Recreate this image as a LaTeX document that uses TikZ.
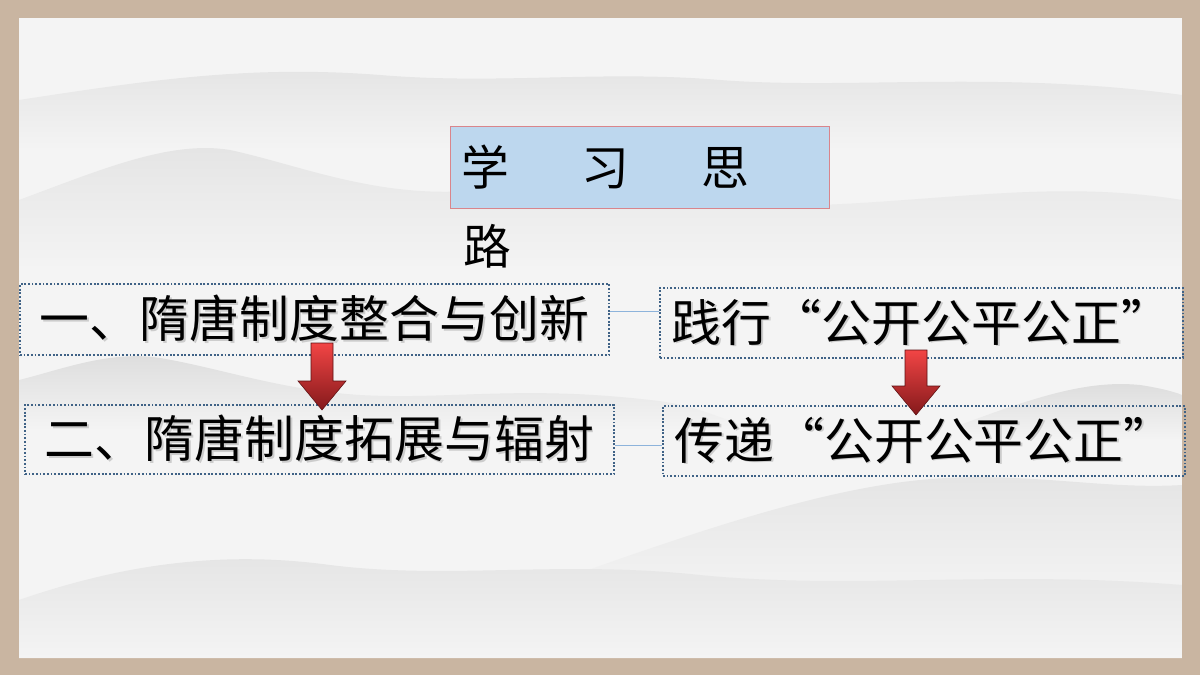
\documentclass[tikz,border=0pt]{standalone}
\usepackage{fontspec}
\newfontfamily\cjk{Noto Sans CJK SC}
\usetikzlibrary{calc}
\definecolor{frame}{HTML}{C9B5A1}
\definecolor{paper}{HTML}{F4F4F4}
\definecolor{mtn}{HTML}{E4E4E4}
\definecolor{mtnd}{HTML}{DCDCDC}
\definecolor{titlefill}{HTML}{BDD7EE}
\definecolor{titleline}{HTML}{D9858C}
\definecolor{boxline}{HTML}{3F6286}
\definecolor{linkline}{HTML}{8DB3DB}
\definecolor{arrtop}{HTML}{F24545}
\definecolor{arrbot}{HTML}{84191B}
\newcommand\shtext[1]{\makebox[0pt][l]{\hspace{0.045cm}\raisebox{-0.045cm}{\color{black!20}#1}}#1}
\tikzset{
  dotbox/.style={draw=boxline, line width=1.3pt, dash pattern=on 1.3pt off 1.3pt,
    inner sep=0pt, font=\cjk\fontsize{35.5}{40}\selectfont},
  titlebox/.style={draw=titleline, fill=titlefill, line width=0.6pt, inner xsep=0.3cm,
    inner ysep=0pt, font=\cjk\fontsize{34}{40}\selectfont, align=left},
  titletext/.style={inner sep=0pt, font=\cjk\fontsize{34}{40}\selectfont},
  link/.style={draw=linkline, line width=0.6pt},
  mountain/.style={top color=mtn, bottom color=paper},
  mountaind/.style={top color=mtnd, bottom color=paper}
}
\begin{document}
\begin{tikzpicture}[x=0.025cm,y=-0.025cm]
\useasboundingbox (0,0) rectangle (1200,675);
\fill[frame] (0,0) rectangle (1200,675);
\fill[paper] (19,18) rectangle (1182,658);
\begin{scope}
\clip (19,18) rectangle (1182,658);
% faint mountain layers, each fading into the paper below
\shade[mountain] (19,100) .. controls (150,80) and (250,65) .. (380,75) .. controls (500,85) and (600,70) .. (720,80) .. controls (850,90) and (1000,70) .. (1182,95) -- (1182,150) -- (19,150) -- cycle;
\shade[mountain] (19,200) .. controls (100,170) and (170,140) .. (230,150) .. controls (300,165) and (380,200) .. (480,190) .. controls (600,180) and (700,210) .. (820,205) .. controls (950,200) and (1060,180) .. (1182,200) -- (1182,270) -- (19,270) -- cycle;
\shade[mountaind] (19,380) .. controls (60,370) and (110,350) .. (160,358) .. controls (220,368) and (280,390) .. (360,395) .. controls (450,400) and (520,385) .. (650,400) .. controls (700,405) and (720,420) .. (760,430) -- (19,430) -- cycle;
\shade[mountaind] (960,425) .. controls (1040,395) and (1090,380) .. (1140,385) .. controls (1160,388) and (1175,392) .. (1182,395) -- (1182,440) -- (960,440) -- cycle;
\shade[mountain] (560,580) .. controls (700,530) and (820,490) .. (920,480) .. controls (1020,470) and (1100,490) .. (1182,485) -- (1182,600) -- (560,600) -- cycle;
\shade[mountain] (19,600) .. controls (120,565) and (220,550) .. (330,565) .. controls (450,580) and (560,560) .. (700,575) .. controls (850,590) and (1000,570) .. (1182,585) -- (1182,658) -- (19,658) -- cycle;
\end{scope}

% title
\node[titlebox, minimum width=9.475cm, minimum height=2.05cm, text width=8.875cm] (title) at (639.5,167)
  {学\hspace{1.8cm}习\hspace{1.8cm}思};
\node[titletext] (lu) at (487,246) {路};

% boxes
\node[dotbox, minimum width=14.725cm, minimum height=1.775cm] (b1) at (314.5,319.5) {\shtext{一、隋唐制度整合与创新}};
\node[dotbox, minimum width=14.725cm, minimum height=1.725cm] (b2) at (319.5,439.5) {\shtext{二、隋唐制度拓展与辐射}};
\node[dotbox, minimum width=13.075cm, minimum height=1.75cm] (b3) at (921.5,323) {\shtext{践行“公开公平公正”}};
\node[dotbox, minimum width=13.05cm, minimum height=1.75cm] (b4) at (924,441) {\shtext{传递“公开公平公正”}};

% thin links
\coordinate (l1) at ([yshift=0.19cm]b1.east);
\draw[link] (l1) -- (l1 -| b3.west);
\coordinate (l2) at ([yshift=-0.15cm]b2.east);
\draw[link] (l2) -- (l2 -| b4.west);

% red arrows
\coordinate (a1s) at (322,343);
\coordinate (a1e) at (322,410);
\coordinate (a2s) at (916,350);
\coordinate (a2e) at (916,415);
\foreach \s/\e in {a1s/a1e, a2s/a2e}{
  \shade[top color=arrtop, bottom color=arrbot, draw=arrbot!70!black, line width=0.4pt]
    ($(\s)+(-11,0)$) -- ($(\s)+(11,0)$) -- ($(\e)+(11,-29)$) -- ($(\e)+(24,-29)$) -- (\e)
    -- ($(\e)+(-24,-29)$) -- ($(\e)+(-11,-29)$) -- cycle;
}
\end{tikzpicture}
\end{document}
